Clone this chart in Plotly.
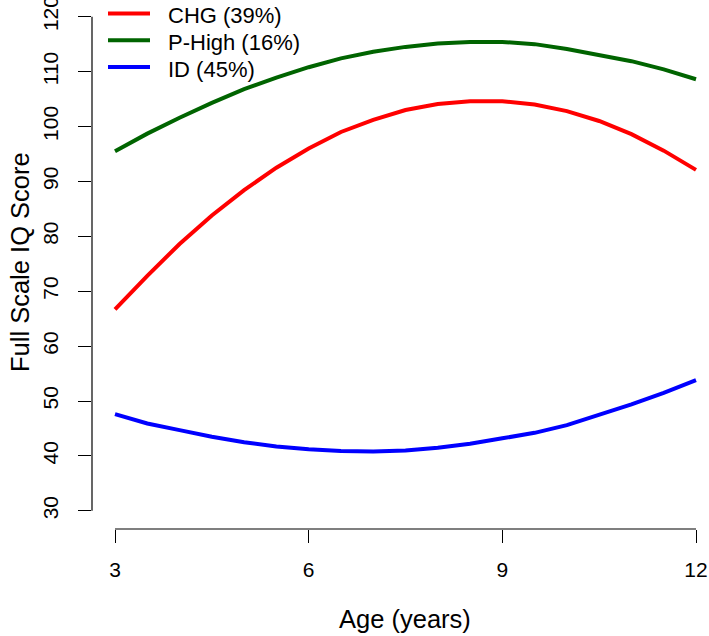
import plotly.graph_objects as go

# group trajectories of full scale IQ by age
age = [3, 3.5, 4, 4.5, 5, 5.5, 6, 6.5, 7, 7.5, 8, 8.5, 9, 9.5, 10, 10.5, 11, 11.5, 12]
chg = [66.7, 72.8, 78.6, 83.8, 88.4, 92.5, 96.0, 99.0, 101.2, 103.0, 104.1, 104.6,
       104.6, 104.0, 102.8, 101.0, 98.6, 95.6, 92.1]
p_high = [95.5, 98.7, 101.6, 104.3, 106.8, 108.9, 110.8, 112.4, 113.6, 114.5, 115.1,
          115.4, 115.4, 115.0, 114.1, 113.0, 111.9, 110.4, 108.6]
id_grp = [47.6, 45.9, 44.7, 43.5, 42.5, 41.7, 41.2, 40.9, 40.8, 41.0, 41.5, 42.2,
          43.2, 44.2, 45.6, 47.5, 49.4, 51.5, 53.8]

names = ["CHG (39%)", "P-High (16%)", "ID (45%)"]
colors = ["#FF0000", "#006400", "#0000FF"]
x_ticks = [3, 6, 9, 12]
y_ticks = [30, 40, 50, 60, 70, 80, 90, 100, 110, 120]

FONT = "Liberation Sans, Arial, sans-serif"
W, H = 709, 636
ML, MB = 92, 107
PW, PH = W - ML, H - MB


def px_x(p):
    return (p - ML) / PW


def px_y(p):
    return 1 - p / PH


fig = go.Figure()
for ys, nm, col in zip([chg, p_high, id_grp], names, colors):
    fig.add_trace(go.Scatter(x=age, y=ys, mode="lines", name=nm,
                             line=dict(color=col, width=4)))

fig.update_layout(
    width=W, height=H,
    margin=dict(l=ML, r=0, t=0, b=MB),
    plot_bgcolor="white", paper_bgcolor="white",
    font=dict(family=FONT, color="black"),
    showlegend=False,
    xaxis=dict(range=[2.6437, 12.2014], tickvals=x_ticks, automargin=False,
               ticks="outside", ticklen=13, tickwidth=1.2, tickcolor="black",
               showline=False, showgrid=False, zeroline=False,
               tickfont=dict(size=21), ticklabelstandoff=9),
    yaxis=dict(range=[26.685, 123.04], tickvals=y_ticks, automargin=False,
               ticks="outside", ticklen=13, tickwidth=1.2, tickcolor="black",
               showline=False, showgrid=False, zeroline=False,
               tickangle=-90, tickfont=dict(size=21), ticklabelstandoff=12,
               ticklabeloverflow="allow"),
)

# R-style axis lines that only span the tick range
fig.add_shape(type="line", xref="x", yref="paper", x0=x_ticks[0], x1=x_ticks[-1],
              y0=0, y1=0, line=dict(color="black", width=1.2))
fig.add_shape(type="line", xref="paper", yref="y", x0=0, x1=0,
              y0=y_ticks[0], y1=y_ticks[-1], line=dict(color="black", width=1.2))

# legend, R style (short line + label, no box)
for i, (nm, col) in enumerate(zip(names, colors)):
    ly = 13.5 + i * 26.7
    fig.add_shape(type="line", xref="paper", yref="paper",
                  x0=px_x(108), x1=px_x(150), y0=px_y(ly), y1=px_y(ly),
                  line=dict(color=col, width=4))
    fig.add_annotation(text=nm, xref="paper", yref="paper",
                       x=px_x(166), y=px_y(ly + 2.5), xanchor="left", yanchor="middle",
                       showarrow=False, font=dict(size=22))

fig.add_annotation(text="Age (years)", xref="paper", yref="paper",
                   x=px_x(405), y=px_y(619), xanchor="center", yanchor="middle",
                   showarrow=False, font=dict(size=25.5))
fig.add_annotation(text="Full Scale IQ Score", xref="paper", yref="paper",
                   x=px_x(20), y=px_y(262), xanchor="center", yanchor="middle",
                   textangle=-90, showarrow=False, font=dict(size=25.5))

fig.write_html("out.html", config={"displayModeBar": False},
               post_script="document.body.style.margin='0';")
